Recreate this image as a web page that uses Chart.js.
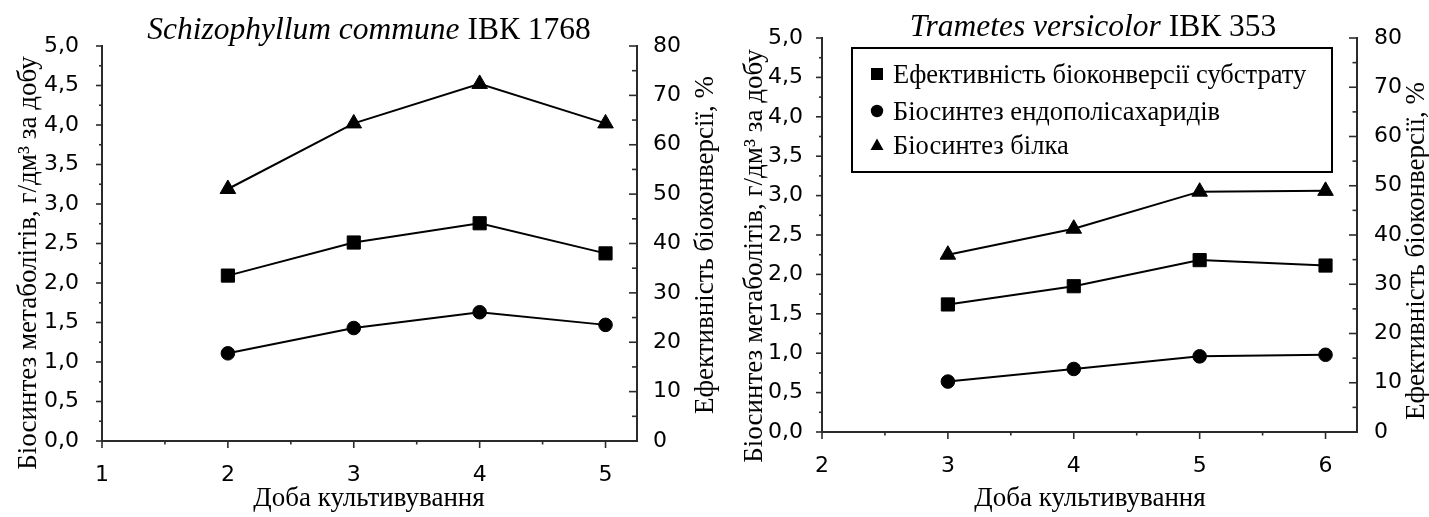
<!DOCTYPE html>
<html>
<head>
<meta charset="utf-8">
<script src="https://cdn.jsdelivr.net/npm/chart.js@4.4.1/dist/chart.umd.min.js"></script>
<style>
html,body{margin:0;padding:0;background:#fff;overflow:hidden}
#wrap{position:relative;width:1429px;height:517px;background:#fff}
canvas{position:absolute;left:0;top:0}
</style>
</head>
<body>
<div id="wrap">
<canvas id="c1" width="1429" height="517"></canvas>
<canvas id="c2" width="1429" height="517"></canvas>
</div>
<script>
// ---- data ----
const daysA = [2, 3, 4, 5];
const efficiencyA = [33.5, 40.2, 44.1, 38.0];      // %, right axis
const polysaccharidesA = [1.11, 1.43, 1.63, 1.47]; // g/dm3 per day, left axis
const proteinA = [3.19, 4.02, 4.52, 4.02];         // g/dm3 per day, left axis

const daysB = [3, 4, 5, 6];
const efficiencyB = [25.9, 29.6, 34.9, 33.8];
const polysaccharidesB = [0.64, 0.80, 0.96, 0.98];
const proteinB = [2.25, 2.58, 3.05, 3.06];

const seriesNames = ['Ефективність біоконверсії субстрату', 'Біосинтез ендополісахаридів', 'Біосинтез білка'];
const titleA = ['Schizophyllum commune', ' ІВК 1768'];
const titleB = ['Trametes versicolor', ' ІВК 353'];
const xTitleText = 'Доба культивування';
const yTitleText = 'Біосинтез метаболітів, г/дм³ за добу';
const y1TitleText = 'Ефективність біоконверсії, %';

// ---- styles ----
const AXIS = '#2b2b2b';
const SERIF = '"Liberation Serif", "Times New Roman", serif';
const SANS = '"DejaVu Sans", Arial, sans-serif';

const decor = {
  id: 'decor',
  afterDraw(chart, args, o) {
    const ctx = chart.ctx, ca = chart.chartArea;
    const {x, y, y1} = chart.scales;
    ctx.save();
    ctx.strokeStyle = AXIS; ctx.lineWidth = 1.6;
    const seg = (a, b, c, d) => { ctx.beginPath(); ctx.moveTo(a, b); ctx.lineTo(c, d); ctx.stroke(); };
    for (let i = 0; i <= 20; i++) {
      const p = y.getPixelForValue(i * 0.25);
      const L = i % 2 === 0 ? o.yMajor : o.yMinor;
      seg(ca.left - L, p, ca.left, p);
    }
    for (let i = 0; i <= 16; i++) {
      const p = y1.getPixelForValue(i * 5);
      const L = i % 2 === 0 ? o.y1Major : o.y1Minor;
      seg(ca.right, p, ca.right - L, p);
    }
    for (let i = 0; x.min + i * 0.5 <= x.max + 1e-9; i++) {
      const p = x.getPixelForValue(x.min + i * 0.5);
      const L = i % 2 === 0 ? o.xMajor : o.xMinor;
      seg(p, ca.bottom, p, ca.bottom + L);
    }
    ctx.fillStyle = '#000';
    // chart title: italic + regular
    ctx.textBaseline = 'alphabetic';
    ctx.textAlign = 'left';
    const fi = 'italic ' + o.titleSize + 'px ' + SERIF;
    const fr = o.titleSize + 'px ' + SERIF;
    ctx.font = fi; const w1 = ctx.measureText(o.title[0]).width;
    ctx.font = fr; const w2 = ctx.measureText(o.title[1]).width;
    const x0 = o.titleX - (w1 + w2) / 2;
    ctx.font = fi; ctx.fillText(o.title[0], x0, o.titleBase);
    ctx.font = fr; ctx.fillText(o.title[1], x0 + w1, o.titleBase);
    // axis titles
    ctx.font = o.axisSize + 'px ' + SERIF;
    ctx.textAlign = 'center';
    ctx.fillText(xTitleText, o.xTitleX, o.xTitleBase);
    const rot = (t, px, py) => { ctx.save(); ctx.translate(px, py); ctx.rotate(-Math.PI / 2); ctx.fillText(t, 0, 0); ctx.restore(); };
    rot(yTitleText, o.yTitleX, o.yTitleY);
    rot(y1TitleText, o.y1TitleX, o.y1TitleY);
    // legend
    if (o.legend) {
      const L = o.legend;
      ctx.lineWidth = 2; ctx.strokeStyle = '#000';
      ctx.strokeRect(L.x, L.y, L.w, L.h);
      ctx.font = L.size + 'px ' + SERIF;
      ctx.textAlign = 'left';
      chart.data.datasets.forEach((ds, i) => {
        const by = L.base[i], my = by - 9, mx = L.markX;
        ctx.fillStyle = '#000';
        ctx.beginPath();
        if (ds.pointStyle === 'rect') ctx.rect(mx - 6, my - 6, 12, 12);
        else if (ds.pointStyle === 'circle') ctx.arc(mx, my, 6.2, 0, Math.PI * 2);
        else { ctx.moveTo(mx, my - 6.5); ctx.lineTo(mx + 6.5, my + 5); ctx.lineTo(mx - 6.5, my + 5); ctx.closePath(); }
        ctx.fill();
        ctx.fillText(ds.label, L.textX, by);
      });
    }
    ctx.restore();
  }
};

const fmt1 = v => v.toFixed(1).replace('.', ',');

function makeDatasets(days, eff, poly, prot) {
  const pts = arr => days.map((d, i) => ({x: d, y: arr[i]}));
  const base = {borderColor: '#000', borderWidth: 2, pointBackgroundColor: '#000', pointBorderColor: '#000', pointBorderWidth: 1, fill: false, tension: 0, clip: false};
  return [
    Object.assign({label: seriesNames[0], data: pts(eff), yAxisID: 'y1', pointStyle: 'rect', pointRadius: 9.3}, base),
    Object.assign({label: seriesNames[1], data: pts(poly), yAxisID: 'y', pointStyle: 'circle', pointRadius: 6.8}, base),
    Object.assign({label: seriesNames[2], data: pts(prot), yAxisID: 'y', pointStyle: 'triangle', pointRadius: 9}, base)
  ];
}

function makeChart(id, datasets, g) {
  const tickFont = {family: SANS, size: 22};
  return new Chart(document.getElementById(id), {
    type: 'line',
    data: {datasets},
    options: {
      responsive: false, animation: false, devicePixelRatio: 1,
      layout: {padding: g.padding},
      plugins: {legend: {display: false}, title: {display: false}, tooltip: {enabled: false}, decor: g.decor},
      scales: {
        x: {
          type: 'linear', position: 'bottom', min: g.xMin, max: g.xMax,
          grid: {display: false}, border: {display: true, color: AXIS, width: 2},
          ticks: {stepSize: 1, includeBounds: false, color: '#000', font: tickFont, padding: 13, maxRotation: 0},
          afterFit: s => { s.height = g.xH; }
        },
        y: {
          type: 'linear', position: 'left', min: 0, max: 5,
          grid: {display: false}, border: {display: true, color: AXIS, width: 2},
          ticks: {stepSize: 0.5, color: '#000', font: tickFont, padding: g.yPad, callback: v => fmt1(v)},
          afterFit: s => { s.width = g.yW; }
        },
        y1: {
          type: 'linear', position: 'right', min: 0, max: 80,
          grid: {display: false}, border: {display: true, color: AXIS, width: 2},
          ticks: {stepSize: 10, color: '#000', font: tickFont, padding: g.y1Pad},
          afterFit: s => { s.width = g.y1W; }
        }
      }
    },
    plugins: [decor]
  });
}

// left chart: plot area x 102..637, y 46..441
makeChart('c1', makeDatasets(daysA, efficiencyA, polysaccharidesA, proteinA), {
  padding: {left: 0, top: 46, right: 704, bottom: 0},
  xMin: 1, xMax: 5.25, xH: 76, yW: 102, y1W: 88, yPad: 15, y1Pad: 8,
  decor: {
    yMajor: 6, yMinor: 3, y1Major: 8, y1Minor: 5, xMajor: 7, xMinor: 3.5,
    title: titleA, titleSize: 31.5, titleX: 369, titleBase: 39,
    axisSize: 27, xTitleX: 369, xTitleBase: 506,
    yTitleX: 36, yTitleY: 263, y1TitleX: 713, y1TitleY: 245
  }
});

// right chart: plot area x 822..1357, y 38..432
makeChart('c2', makeDatasets(daysB, efficiencyB, polysaccharidesB, proteinB), {
  padding: {left: 725, top: 38, right: 0, bottom: 0},
  xMin: 2, xMax: 6.25, xH: 85, yW: 97, y1W: 72, yPad: 11, y1Pad: 9,
  decor: {
    yMajor: 6, yMinor: 3, y1Major: 8, y1Minor: 4.5, xMajor: 7, xMinor: 3.5,
    title: titleB, titleSize: 31.5, titleX: 1093, titleBase: 36,
    axisSize: 27, xTitleX: 1090, xTitleBase: 506,
    yTitleX: 762, yTitleY: 256, y1TitleX: 1424, y1TitleY: 251,
    legend: {x: 852, y: 48, w: 480, h: 124, size: 26.5, markX: 877, textX: 893, base: [83, 120, 154]}
  }
});
</script>
</body>
</html>
